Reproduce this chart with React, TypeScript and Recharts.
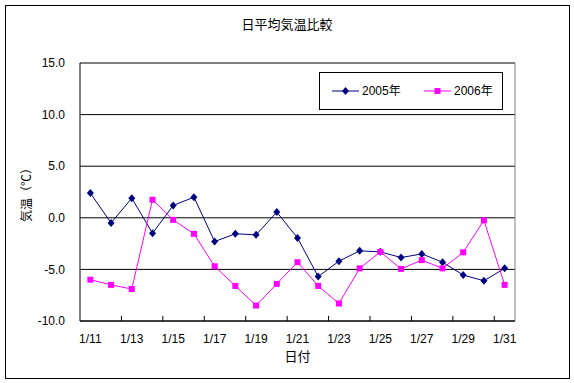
import React from 'react';
import {
  LineChart,
  Line,
  XAxis,
  YAxis,
  CartesianGrid,
  Legend,
  ReferenceLine,
  Label,
} from 'recharts';

const DAYS = [
  '1/11', '1/12', '1/13', '1/14', '1/15', '1/16', '1/17', '1/18', '1/19', '1/20', '1/21',
  '1/22', '1/23', '1/24', '1/25', '1/26', '1/27', '1/28', '1/29', '1/30', '1/31',
];
const TEMP_2005 = [
  2.4, -0.5, 1.9, -1.5, 1.2, 2.0, -2.3, -1.55, -1.65, 0.55, -1.95,
  -5.7, -4.2, -3.2, -3.3, -3.85, -3.5, -4.3, -5.55, -6.1, -4.9,
];
const TEMP_2006 = [
  -6.0, -6.5, -6.9, 1.75, -0.2, -1.55, -4.7, -6.6, -8.5, -6.4, -4.3,
  -6.6, -8.3, -4.9, -3.3, -4.95, -4.1, -4.9, -3.35, -0.25, -6.5,
];
const Y_TICKS = [-10, -5, 0, 5, 10, 15];
const SERIES_NAMES = ['2005年', '2006年'];

const NAVY = '#000080';
const MAGENTA = '#FF00FF';
const FONT = '"Liberation Sans", "Noto Sans CJK JP", sans-serif';
const Y_MIN = -10;
const Y_MAX = 15;
// inside tick mark length, in axis units (about 5px)
const MARK_LEN = 0.5;

const data = DAYS.map((day, i) => ({
  idx: i,
  day,
  y2005: TEMP_2005[i],
  y2006: TEMP_2006[i],
}));

// labels on every other category, tick marks on the boundaries in between
const labelTicks = DAYS.map((_, i) => i).filter((i) => i % 2 === 0);
const markTicks = DAYS.map((_, i) => i + 0.5).filter((_, i) => i % 2 === 1 && i < DAYS.length - 1);

const XTick = (props: any) => {
  const { x, y, payload } = props;
  return (
    <text x={x} y={y + 5} dy="0.71em" textAnchor="middle" fill="#000" fontSize={12} fontFamily={FONT}>
      {DAYS[payload.value]}
    </text>
  );
};

const YLabel = (props: any) => {
  const { viewBox } = props;
  const cx = viewBox.x + 7;
  const cy = viewBox.y + viewBox.height / 2;
  return (
    <text
      x={cx}
      y={cy}
      transform={`rotate(-90 ${cx} ${cy})`}
      textAnchor="middle"
      dominantBaseline="central"
      fill="#000"
      fontSize={12}
      fontFamily={FONT}
    >
      気温（℃）
    </text>
  );
};

const Diamond = (props: any) => {
  const { cx, cy, index } = props;
  if (cx == null || cy == null) return <g key={index} />;
  return (
    <path
      key={index}
      d={`M${cx},${cy - 4}L${cx + 3.5},${cy}L${cx},${cy + 4}L${cx - 3.5},${cy}Z`}
      fill={NAVY}
    />
  );
};

const Square = (props: any) => {
  const { cx, cy, index } = props;
  if (cx == null || cy == null) return <g key={index} />;
  return <rect key={index} x={cx - 3} y={cy - 3} width={6} height={6} fill={MAGENTA} />;
};

const LegendBox = () => (
  <div style={{ border: '1px solid #000', width: 184, height: 38, boxSizing: 'border-box', background: '#fff' }}>
    <svg width={182} height={36} style={{ display: 'block' }}>
      <line x1={12} y1={18} x2={39} y2={18} stroke={NAVY} strokeWidth={1} />
      <path d="M25.5,14L29,18L25.5,22L22,18Z" fill={NAVY} />
      <text x={42} y={22} fontSize={12} fontFamily={FONT} fill="#000">{SERIES_NAMES[0]}</text>
      <line x1={104} y1={18} x2={131} y2={18} stroke={MAGENTA} strokeWidth={1} />
      <rect x={114.5} y={15} width={6} height={6} fill={MAGENTA} />
      <text x={134} y={22} fontSize={12} fontFamily={FONT} fill="#000">{SERIES_NAMES[1]}</text>
    </svg>
  </div>
);

export default function App() {
  return (
    <div style={{ position: 'absolute', left: 0, top: 0, width: 574, height: 383, background: '#fff' }}>
      <div
        style={{
          position: 'absolute',
          left: 5,
          top: 5,
          width: 565,
          height: 374,
          border: '1px solid #000',
          boxSizing: 'border-box',
          pointerEvents: 'none',
        }}
      />
      <div
        style={{
          position: 'absolute',
          left: 0,
          top: 14,
          width: 574,
          textAlign: 'center',
          fontSize: 13,
          fontFamily: FONT,
        }}
      >
        日平均気温比較
      </div>
      <LineChart
        width={574}
        height={383}
        data={data}
        margin={{ top: 63, right: 59, bottom: 32, left: 20 }}
        style={{ position: 'absolute', left: 0, top: 0 }}
      >
        <CartesianGrid horizontal vertical={false} stroke="#000" strokeWidth={1} />
        <XAxis
          dataKey="idx"
          type="number"
          domain={[-0.5, DAYS.length - 0.5]}
          ticks={labelTicks}
          interval={0}
          height={30}
          axisLine={{ stroke: '#000' }}
          tickLine={false}
          tick={<XTick />}
        >
          <Label value="日付" position="insideBottom" offset={-10} fill="#000" fontSize={13} fontFamily={FONT} />
        </XAxis>
        <YAxis
          domain={[Y_MIN, Y_MAX]}
          ticks={Y_TICKS}
          interval={0}
          width={60}
          axisLine={{ stroke: '#000' }}
          tickLine={false}
          tickMargin={9}
          tickFormatter={(v: number) => v.toFixed(1)}
          tick={{ fill: '#000', fontSize: 12, fontFamily: FONT }}
        >
          <Label content={<YLabel />} position="insideLeft" />
        </YAxis>
        <ReferenceLine y={Y_MAX} stroke="#808080" />
        <ReferenceLine x={DAYS.length - 0.5} stroke="#808080" />
        {markTicks.map((m) => (
          <ReferenceLine
            key={m}
            segment={[
              { x: m, y: Y_MIN },
              { x: m, y: Y_MIN + MARK_LEN },
            ]}
            stroke="#000"
          />
        ))}
        <Legend
          layout="horizontal"
          verticalAlign="middle"
          align="center"
          content={<LegendBox />}
          wrapperStyle={{ left: 319, top: 72, width: 184, height: 38 }}
        />
        <Line
          dataKey="y2005"
          name={SERIES_NAMES[0]}
          stroke={NAVY}
          strokeWidth={1}
          dot={<Diamond />}
          activeDot={false}
          isAnimationActive={false}
        />
        <Line
          dataKey="y2006"
          name={SERIES_NAMES[1]}
          stroke={MAGENTA}
          strokeWidth={1}
          dot={<Square />}
          activeDot={false}
          isAnimationActive={false}
        />
      </LineChart>
    </div>
  );
}
